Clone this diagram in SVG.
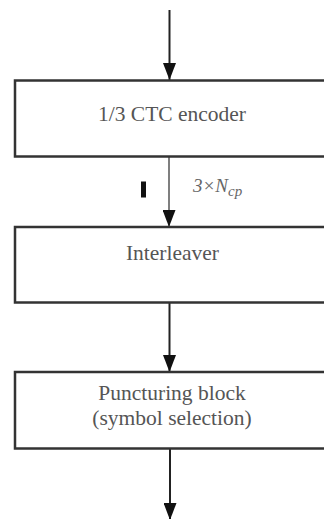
<svg xmlns="http://www.w3.org/2000/svg" width="324" height="519" viewBox="0 0 324 519">
<defs>
<marker id="ah" markerWidth="17" markerHeight="13" refX="17" refY="6.5" orient="auto" markerUnits="userSpaceOnUse">
<path d="M0,0 L17,6.5 L0,13 Z" fill="#111"/>
</marker>
<style>
.box{fill:#fff;stroke:#333;stroke-width:2.5}
.lbl{font-family:"Liberation Serif","Times New Roman",serif;font-size:21.5px;fill:#555;text-anchor:middle}
.conn{stroke:#222;stroke-width:2;fill:none}
.thin{stroke:#555;stroke-width:1.5;fill:none}
</style>
</defs>
<rect width="324" height="519" fill="#fff"/>
<g id="connectors">
<line class="conn" x1="169.5" y1="10" x2="169.5" y2="80" marker-end="url(#ah)"/>
<line class="thin" x1="169" y1="157" x2="169" y2="227" marker-end="url(#ah)"/>
<line class="conn" x1="169.5" y1="303" x2="169.5" y2="372" marker-end="url(#ah)"/>
<line class="conn" x1="170" y1="449" x2="170" y2="520" marker-end="url(#ah)"/>
<rect x="141" y="181.5" width="5" height="16" fill="#111"/>
<text x="193" y="192" font-family="'Liberation Serif','Times New Roman',serif" font-size="19" font-style="italic" fill="#666">3×N<tspan font-size="15" dy="4">cp</tspan></text>
</g>
<g id="encoder">
<rect class="box" x="15" y="80.5" width="320" height="76"/>
<text class="lbl" x="172" y="120.5">1/3 CTC encoder</text>
</g>
<g id="interleaver">
<rect class="box" x="15" y="227" width="320" height="75.5"/>
<text class="lbl" x="172.5" y="260">Interleaver</text>
</g>
<g id="puncturing">
<rect class="box" x="15" y="372" width="320" height="76.5"/>
<text class="lbl" x="172" y="400">Puncturing block</text>
<text class="lbl" x="172" y="425">(symbol selection)</text>
</g>
</svg>
